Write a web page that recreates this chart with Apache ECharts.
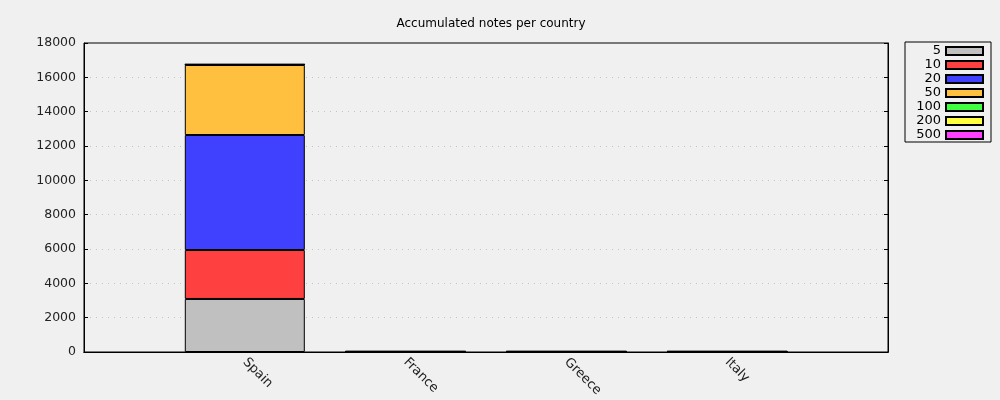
<!DOCTYPE html>
<html>
<head>
<meta charset="utf-8">
<script src="https://cdn.jsdelivr.net/npm/echarts@6/dist/echarts.min.js"></script>
<style>
html,body{margin:0;padding:0;background:#f0f0f0;}
#c{width:1000px;height:400px;}
</style>
</head>
<body>
<div id="c"></div>
<script>
const categories = ['', 'Spain', 'France', 'Greece', 'Italy', ''];
const denominations = ['5', '10', '20', '50', '100', '200', '500'];
const colors = ['#c0c0c0', '#ff4040', '#4040ff', '#ffc040', '#40ff40', '#ffff40', '#ff40ff'];
const notes5   = [null, 3090, 10, 10, 10, null];
const notes10  = [null, 2850, 8, 8, 8, null];
const notes20  = [null, 6700, 8, 8, 8, null];
const notes50  = [null, 4080, 5, 5, 5, null];
const notes100 = [null, 20, 2, 2, 2, null];
const notes200 = [null, 15, 1, 1, 1, null];
const notes500 = [null, 10, 1, 1, 1, null];
const yTicks = { min: 0, max: 18000, interval: 2000 };

const seriesData = [notes5, notes10, notes20, notes50, notes100, notes200, notes500];
const font = 'DejaVu Sans';

const chart = echarts.init(document.getElementById('c'), null, { renderer: 'canvas' });
const yBase = {
  type: 'value', min: yTicks.min, max: yTicks.max, interval: yTicks.interval,
  axisLine: { show: true, lineStyle: { color: '#000', width: 1 } },
  axisTick: { show: true, inside: true, length: 4, lineStyle: { color: '#000' } }
};
chart.setOption({
  backgroundColor: '#f0f0f0',
  animation: false,
  textStyle: { fontFamily: font },
  title: {
    text: 'Accumulated notes per country',
    left: 486, top: 13, textAlign: 'center',
    textStyle: { fontFamily: font, fontSize: 12, fontWeight: 'normal', color: '#000' }
  },
  grid: { left: 84, right: 112, top: 43, bottom: 48, show: true, borderColor: '#000', borderWidth: 1, backgroundColor: 'transparent' },
  legend: {
    orient: 'vertical', left: 905, top: 42, width: 85,
    align: 'right',
    padding: [2, 7, 0, 8],
    itemGap: 0, itemWidth: 37, itemHeight: 8,
    borderColor: '#000', borderWidth: 1, backgroundColor: '#f0f0f0',
    icon: 'rect',
    textStyle: { fontFamily: font, fontSize: 13, lineHeight: 14, color: '#000', width: 28, align: 'right', padding: [0, 0, 0, 0] },
    data: denominations
  },
  xAxis: [{
    type: 'category', data: categories, boundaryGap: false,
    axisLine: { show: true, lineStyle: { color: '#000' } },
    axisTick: { show: false },
    axisLabel: { rotate: -45, fontFamily: font, fontSize: 13, color: '#222', margin: 8, interval: 0 },
    splitLine: { show: false }
  }, {
    type: 'category', data: categories, boundaryGap: false, position: 'top',
    axisLine: { show: true, lineStyle: { color: '#000' } },
    axisTick: { show: false }, axisLabel: { show: false }, splitLine: { show: false }
  }],
  yAxis: [
    Object.assign({}, yBase, {
      position: 'left',
      axisLabel: { fontFamily: font, fontSize: 12.5, color: '#222', margin: 8, formatter: v => String(v) },
      splitLine: { show: true, showMinLine: false, showMaxLine: false, lineStyle: { color: '#c4c4c4', type: [1, 5], width: 1 } }
    }),
    Object.assign({}, yBase, {
      position: 'right',
      axisLabel: { show: false },
      splitLine: { show: false }
    })
  ],
  series: denominations.map((d, i) => ({
    name: d, type: 'bar', stack: 'total', data: seriesData[i],
    barWidth: 120,
    itemStyle: { color: colors[i], borderColor: '#000', borderWidth: 1 }
  }))
});
</script>
</body>
</html>
